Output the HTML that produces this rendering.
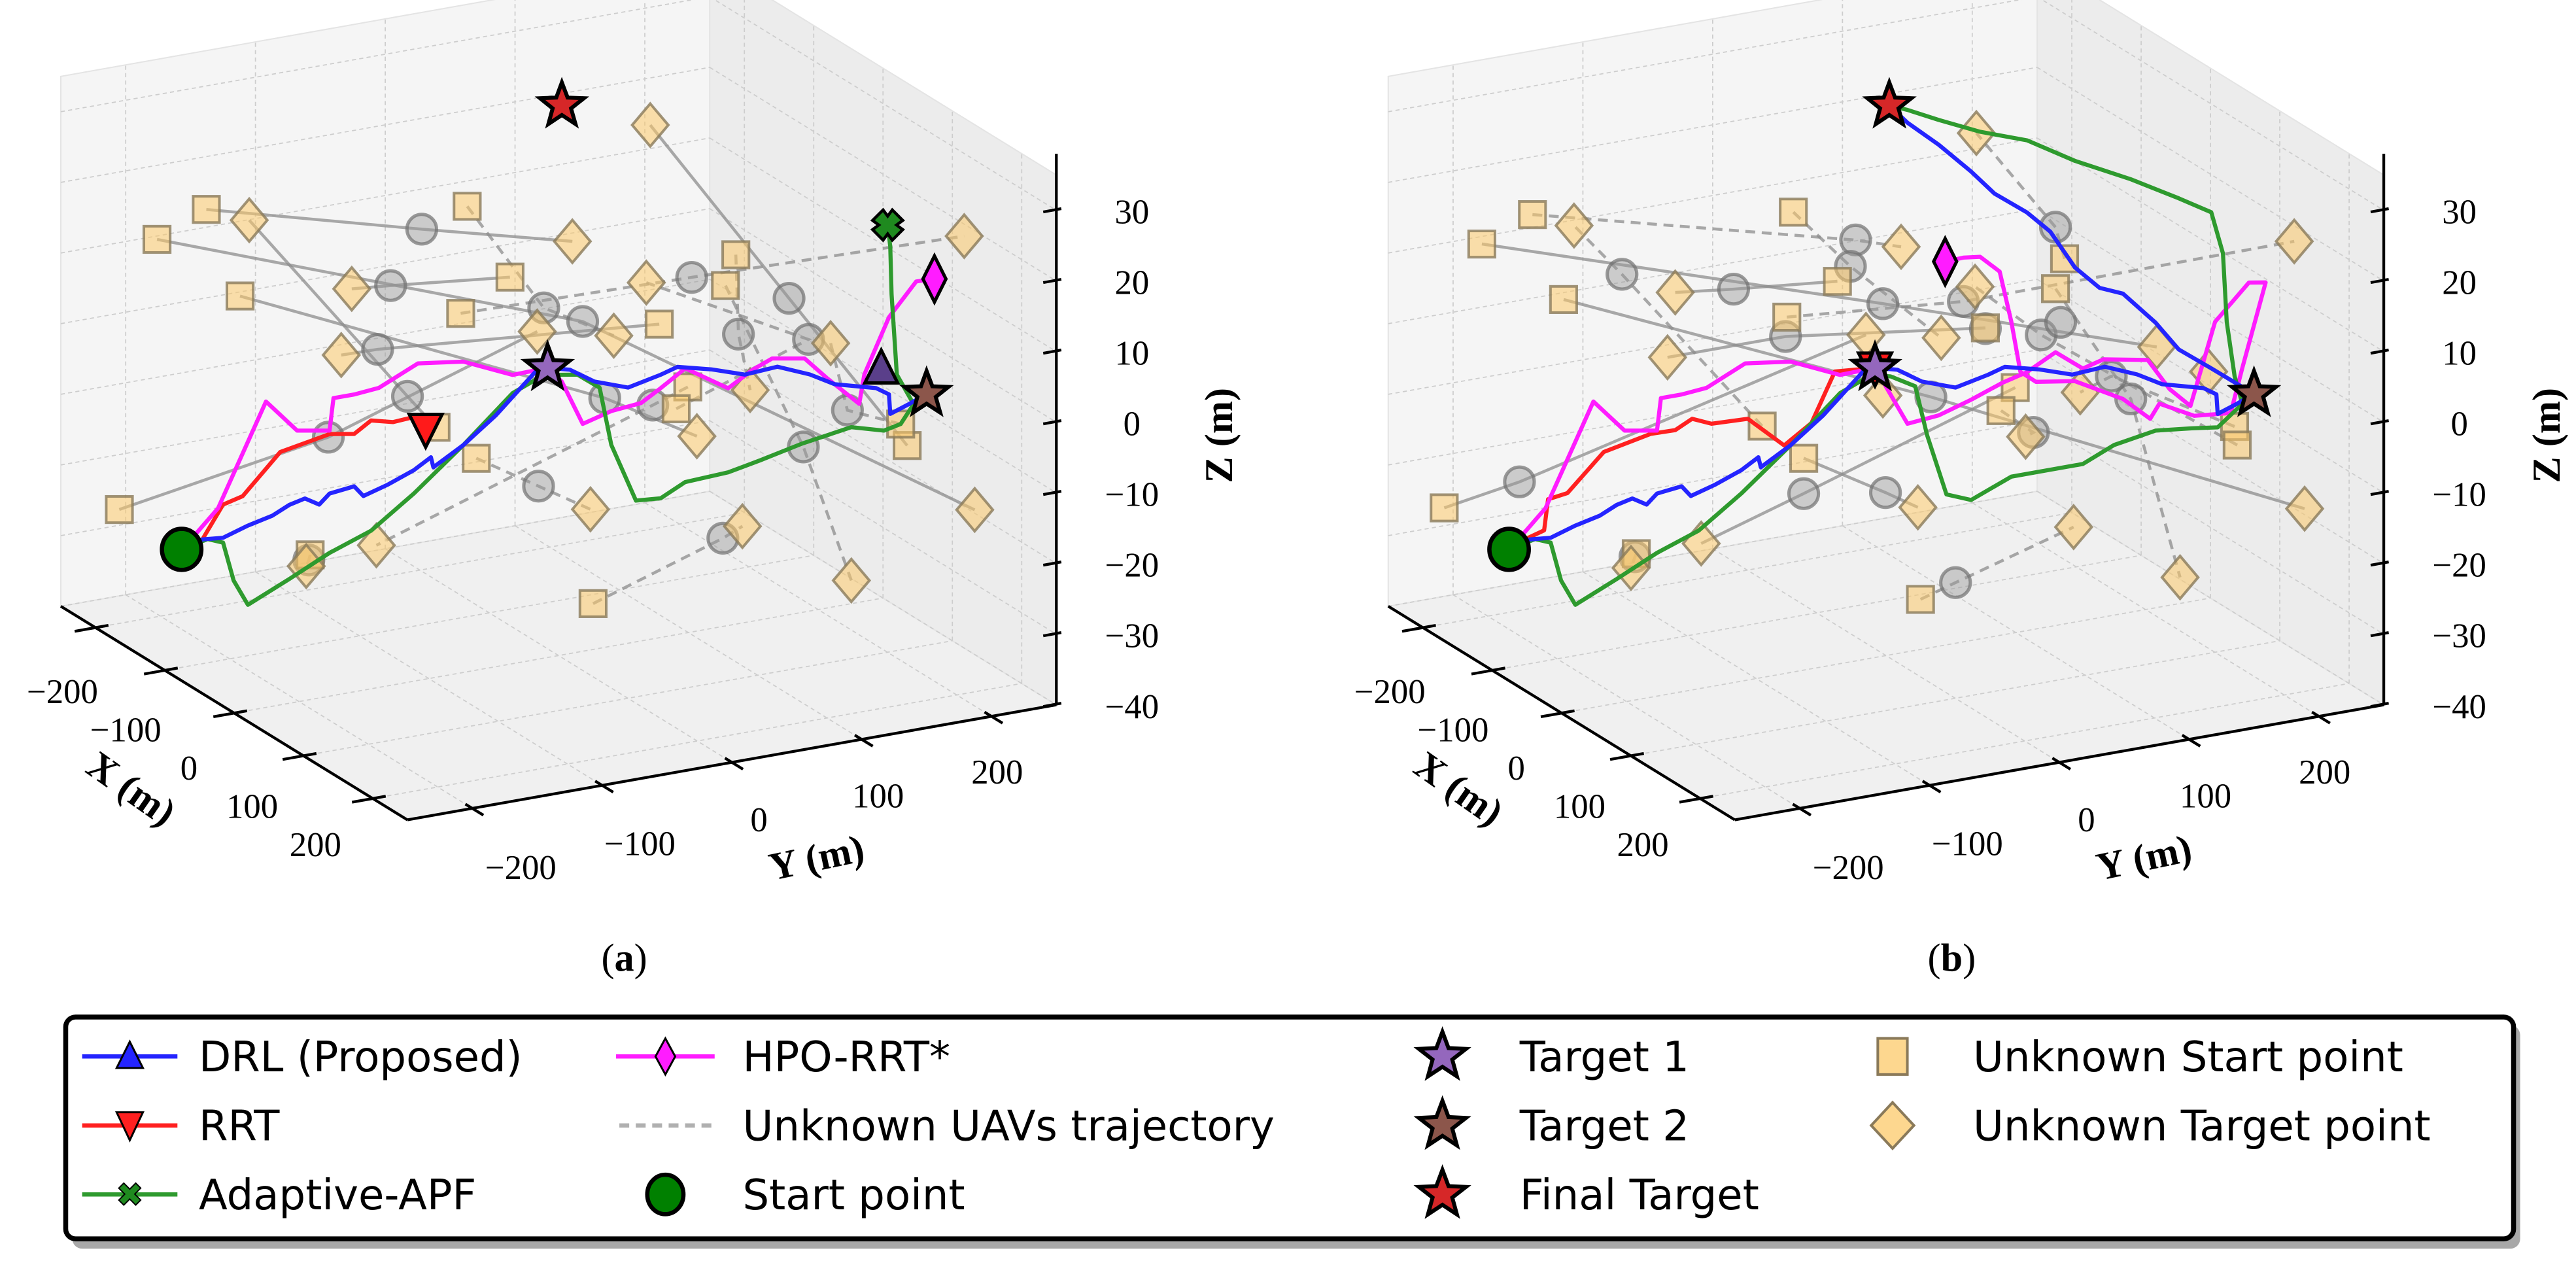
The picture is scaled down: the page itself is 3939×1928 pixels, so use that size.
<!DOCTYPE html>
<html><head><meta charset="utf-8"><title>UAV trajectories 3D</title>
<style>html,body{margin:0;padding:0;background:#fff;}svg{display:block;}</style>
</head><body>
<svg id="chart" xmlns="http://www.w3.org/2000/svg" width="3939" height="1928" viewBox="0 0 1568 767.5" preserveAspectRatio="none">
<rect x="0" y="0" width="1568" height="767.5" fill="#fff"/>
</svg>
<script>
// ---------- data (world coordinates: Y, Z in metres; trajectories sampled on plane X = PX) ----------
const PX = -100;
const xTicks = [-200,-100,0,100,200];
const yTicks = [-200,-100,0,100,200];
const zTicks = [-40,-30,-20,-10,0,10,20,30];
const startPt = [-237,-23.3];
const target1 = [45,-6.8];
const target2 = [337,-20.0];
const finalT = [56,30.0];

const drlLeg1 = [[-237,-23.3],[-221,-22.4],[-205,-22.7],[-186,-21.6],[-167,-20.8],[-154,-19.7],[-142,-19.2],[-131,-20.4],[-123,-19.1],[-104,-18.7],[-97,-20.3],[-78,-19.3],[-58,-17.9],[-45,-16.5],[-43,-18.0],[-20,-15.6],[5,-12.2],[24,-9.0],[37,-6.8],[45,-6.8]];
const drlLeg2 = [[62,-7.6],[81,-9.9],[107,-11.6],[132,-10.6],[145,-9.9],[171,-11.1],[197,-12.7],[222,-12.4],[247,-14.3],[266,-16.3],[298,-17.9],[308,-19.1],[309,-21.9],[323,-21.0],[337,-20.0]];
const drlLeg3B = [[304,-15.3],[279,-11.8],[261,-7.4],[236,-2.5],[218,-1.1],[199,2.4],[180,8.1],[162,11.4],[137,14.9],[119,18.6],[94,23.2],[70,27.1],[56,30]];
const drlEndA = [302,-15.2];

const rrtA = [[-237,-23.3],[-221,-22.4],[-205,-18.0],[-190,-17.3],[-161,-12.0],[-123,-10.7],[-104,-11.3],[-91,-9.8],[-74,-10.6],[-59,-10.4],[-49,-12.4]];
const rrtB = [[-238,-23.0],[-210,-21.5],[-207,-17.2],[-192,-16.8],[-164,-11.9],[-128,-10.5],[-109,-10.6],[-96,-9.4],[-81,-10.6],[-53,-10.8],[-25,-15.5],[-4,-13.0],[14,-6.3],[45,-6.8]];

const hpoLeg1 = [[-237,-23.3],[-224,-21.1],[-209,-18.4],[-172,-4.5],[-148,-9.4],[-123,-10.2],[-120,-5.7],[-104,-5.7],[-85,-5.4],[-55,-2.9],[-20,-3.8],[18,-6.9],[45,-6.8]];
const hpoLeg2A = [[56,-9.1],[72,-15.6],[94,-14.5],[117,-14.1],[132,-12.5],[151,-10.3],[184,-14.2],[203,-12.2],[218,-11.1],[243,-11.9],[260,-15.2],[285,-19.7],[289,-15.7],[308,-8.2],[329,-3.8],[343,-3.9]];
const hpoLeg2B = [[70,-15.5],[94,-15.1],[119,-13.7],[143,-12.1],[162,-11.2],[184,-9.1],[205,-12.1],[221,-11.3],[255,-12.5],[272,-17.2],[288,-20.1],[307,-8.8],[333,-4.1],[346,-4.5],[328,-16.0],[319,-22.1],[291,-21.6],[264,-19.0],[257,-20.9],[236,-17.4],[199,-13.7],[169,-12.8],[157,-11.0],[150,-3.7],[141,3.7],[126,6.3],[113,6.6],[99,6.5]];

const apfLeg1 = [[-237,-23.3],[-217,-22.5],[-205,-23.4],[-197,-29.0],[-186,-32.8],[-154,-30.2],[-123,-27.5],[-91,-25.4],[-58,-21.2],[-20,-15.6],[18,-9.5],[42,-7.7]];
const apfLeg2A = [[68,-8.5],[85,-10.9],[94,-19.3],[113,-27.8],[132,-28.1],[151,-26.4],[184,-26.1],[209,-25.2],[241,-23.9],[279,-22.8],[304,-24.1],[317,-23.6],[327,-21.1],[314,-16.5],[310,-5.0],[309,1.8],[307,4.9]];
const apfLeg2B = [[57,-8.4],[76,-10.4],[85,-17.6],[100,-26.5],[119,-27.9],[150,-25.6],[180,-25.6],[205,-25.6],[229,-23.7],[261,-22.7],[289,-23.3],[309,-23.8],[328,-21.1],[322,-17.0],[316,-9.1],[313,0.7],[304,6.8],[279,9.6],[242,13.5],[199,17.5],[162,21.6],[126,24.0],[94,26.7],[70,28.9],[56,30]];

// unknown UAVs: start square, current position (circle), target diamond, dashed flag
const uavStartA = [[-218,24.2],[-256,21.2],[-41,-12.4],[182,0.4],[-17,18.1],[322,-26.8],[16,7.0],[-192,11.1],[-22,3.1],[131,-3.4],[-285,-16.1],[153,-13.0],[-10,-17.8],[80,-41.3],[-138,-27.3],[317,-23.6],[190,4.5],[144,-15.8]];
const uavNowA = [[-52,16.0],[72,-1.1],[-63,-7.3],[242,-24.4],[42,1.8],[231,-3.0],[-76,8.8],[89,-12.5],[156,2.4],[-86,0.1],[-124,-11.1],[126,-14.7],[38,-23.3],[180,-35.3],[-139,-28.0],[276,-20.3],[192,-6.8],[246,-9.3]];
const uavGoalA = [[64,10.5],[374,-37.6],[-185,21.6],[279,-44.5],[96,-3.9],[124,25.0],[-106,9.3],[160,-20.2],[366,1.4],[-114,0.2],[37,-1.4],[-87,-27.6],[78,-27.9],[195,-34.1],[-141,-28.8],[263,-10.4],[201,-15.0],[121,2.8]];
const uavDashA = [0,0,0,1,1,0,0,0,1,0,0,1,1,1,1,1,1,1];

const uavStartB = [[-219,23.5],[-258,20.6],[-18,17.3],[-42,-12.2],[16,6.4],[191,3.9],[184,-0.1],[-195,10.7],[-23,2.6],[130,-3.9],[-287,-15.8],[153,-13.1],[-10,-17.8],[80,-40.7],[-139,-27.1],[322,-24.1],[142,-16.0],[324,-26.8]];
const uavNowB = [[30,11.8],[51,2.1],[26,8.2],[-150,12.8],[-64,7.9],[184,8.6],[242,-17.6],[88,-12.3],[113,0.4],[-24,-0.1],[-229,-14.0],[-10,-22.8],[53,-24.7],[107,-39.2],[-140,-27.5],[227,-13.9],[167,-19.9],[173,-6.3]];
const uavGoalB = [[65,9.7],[262,-10.9],[96,-4.2],[-187,20.9],[-109,8.9],[123,23.9],[280,-44.1],[376,-37.5],[368,0.6],[-115,-0.1],[38,-1.9],[-89,-27.3],[78,-27.6],[198,-34.3],[-143,-29.0],[203,-15.4],[161,-20.3],[122,2.2]];
const uavDashB = [1,0,1,1,0,1,1,0,1,0,0,0,0,1,1,1,1,1];
const extraGoalB = [[302,-15.7],[51,-10.9]];
const extraNowB = [[188,-5.0],[130,-4.0]];

// ---------- rendering ----------
const NS = 'http://www.w3.org/2000/svg';
const svg = document.getElementById('chart');
function mk(tag, attrs, parent){const e=document.createElementNS(NS,tag);for(const k in attrs)e.setAttribute(k,attrs[k]);(parent||svg).appendChild(e);return e;}
const ZMAX = 35, ZMIN = -40;
function P(dx,X,Y,Z){const u=(X+250)/500, v=(Y+250)/500;return [37+u*211+v*395+dx, 369+u*130-v*70-(Z-ZMIN)*4.3];}
function pt(dx,p){return P(dx,PX,p[0],p[1]);}
function poly(pts){return pts.map(p=>p[0].toFixed(1)+','+p[1].toFixed(1)).join(' ');}
function starPts(cx,cy,R,r){const a=[];for(let i=0;i<10;i++){const ang=-Math.PI/2+i*Math.PI/5;const rad=i%2?r:R;a.push([cx+rad*Math.cos(ang),cy+rad*Math.sin(ang)]);}return poly(a);}

function drawStar(g,c,color,name,R){
  const s=mk('polygon',{points:starPts(c[0],c[1],R||14,(R||14)*0.42),fill:color,stroke:'#000','stroke-width':2.4,'stroke-linejoin':'miter'},g);
  
  
}
function drawSquare(g,c,name){
  const s=mk('rect',{x:c[0]-8,y:c[1]-8,width:16,height:16,fill:'#fcc96a','fill-opacity':0.55,stroke:'#8a7a5a','stroke-opacity':0.8,'stroke-width':1.6},g);
  
  
}
function drawDiamond(g,c,name){
  const s=mk('polygon',{points:poly([[c[0],c[1]-13],[c[0]+11,c[1]],[c[0],c[1]+13],[c[0]-11,c[1]]]),fill:'#fcc96a','fill-opacity':0.55,stroke:'#8a7a5a','stroke-opacity':0.8,'stroke-width':1.6},g);
  
  
}
function drawCircleUAV(g,c,name){
  const s=mk('circle',{cx:c[0],cy:c[1],r:9,fill:'#9a9a9a','fill-opacity':0.45,stroke:'#707070','stroke-opacity':0.7,'stroke-width':2},g);
  
  
}
function drawPath(g,dx,pts,color,name){
  const s=mk('polyline',{points:poly(pts.map(p=>pt(dx,p))),fill:'none',stroke:color,'stroke-width':2.5,'stroke-linejoin':'round','stroke-linecap':'round'},g);
  
  
}

function drawPanel(dx, tag, cfg){
  const g=mk('g',{});
  
  
  const floor=mk('polygon',{points:poly([P(dx,-250,-250,ZMIN),P(dx,250,-250,ZMIN),P(dx,250,250,ZMIN),P(dx,-250,250,ZMIN)]),fill:'#f0f0f0',stroke:'#e4e4e4','stroke-width':0.8},g);
  
  
  const lw=mk('polygon',{points:poly([P(dx,-250,-250,ZMIN),P(dx,-250,250,ZMIN),P(dx,-250,250,ZMAX),P(dx,-250,-250,ZMAX)]),fill:'#f5f5f5',stroke:'#e4e4e4','stroke-width':0.8},g);
  
  
  const rw=mk('polygon',{points:poly([P(dx,-250,250,ZMIN),P(dx,250,250,ZMIN),P(dx,250,250,ZMAX),P(dx,-250,250,ZMAX)]),fill:'#ececec',stroke:'#e4e4e4','stroke-width':0.8},g);
  
  
  const gs={stroke:'#cdcdcd','stroke-width':0.7,'stroke-dasharray':'2.5,2'};
  function gl(a,b){const l=mk('line',Object.assign({x1:a[0],y1:a[1],x2:b[0],y2:b[1]},gs),g);
    
    }
  yTicks.forEach(y=>{gl(P(dx,-250,y,ZMIN),P(dx,-250,y,ZMAX));gl(P(dx,-250,y,ZMIN),P(dx,250,y,ZMIN));});
  xTicks.forEach(x=>{gl(P(dx,x,250,ZMIN),P(dx,x,250,ZMAX));gl(P(dx,x,-250,ZMIN),P(dx,x,250,ZMIN));});
  zTicks.forEach(z=>{gl(P(dx,-250,-250,z),P(dx,-250,250,z));gl(P(dx,-250,250,z),P(dx,250,250,z));});
  const ax={stroke:'#000','stroke-width':1.7};
  function al(a,b,name){const l=mk('line',Object.assign({x1:a[0],y1:a[1],x2:b[0],y2:b[1]},ax),g);
    
    }
  al(P(dx,-250,-250,ZMIN),P(dx,250,-250,ZMIN),'x-axis-line');
  al(P(dx,250,-250,ZMIN),P(dx,250,250,ZMIN),'y-axis-line');
  al(P(dx,250,250,ZMIN),P(dx,250,250,38),'z-axis-line');
  const tf='"Liberation Serif", "DejaVu Serif", serif';
  xTicks.forEach(x=>{al(P(dx,x,-266,ZMIN),P(dx,x,-240,ZMIN),'x-tick');
    const t=mk('text',{x:38+dx+(x+200)/400*154,y:428+(x+200)/400*93,'font-family':tf,'font-size':21,'text-anchor':'middle',fill:'#000'},g);
    t.textContent=(x<0?'\u2212'+(-x):String(x));
    
    });
  yTicks.forEach(y=>{al(P(dx,266,y,ZMIN),P(dx,240,y,ZMIN),'y-tick');
    const t=mk('text',{x:317+dx+(y+200)/400*290,y:535+(y+200)/400*(-58),'font-family':tf,'font-size':21,'text-anchor':'middle',fill:'#000'},g);
    t.textContent=(y<0?'\u2212'+(-y):String(y));
    
    });
  zTicks.forEach(z=>{const p=P(dx,250,250,z);al([p[0]-8,p[1]+1],[p[0]+3,p[1]-1],'z-tick');
    const t=mk('text',{x:p[0]+46,y:p[1]+8,'font-family':tf,'font-size':21,'text-anchor':'middle',fill:'#000'},g);
    t.textContent=(z<0?'\u2212'+(-z):String(z));
    
    });
  const bf={'font-family':tf,'font-size':24,'font-weight':'bold',fill:'#000','text-anchor':'middle'};
  const xl=mk('text',Object.assign({x:80+dx,y:488,transform:'rotate(35 '+(80+dx)+' 480)'},bf),g);xl.textContent='X (m)';
  
  
  const yl=mk('text',Object.assign({x:497+dx,y:530,transform:'rotate(-12 '+(497+dx)+' 522)'},bf),g);yl.textContent='Y (m)';
  
  
  const zl=mk('text',Object.assign({x:742+dx,y:273,transform:'rotate(-90 '+(742+dx)+' 265)'},bf),g);zl.textContent='Z (m)';
  
  
  cfg.us.forEach((s,i)=>{
    const a=pt(dx,s), b=pt(dx,cfg.un[i]), c=pt(dx,cfg.ug[i]);
    const st={stroke:'#8c8c8c','stroke-opacity':0.75,'stroke-width':1.8,fill:'none'};
    if(cfg.ud[i]) st['stroke-dasharray']='6,4';
    const l=mk('polyline',Object.assign({points:poly([a,b,c])},st),g);
    
    
  });
  cfg.us.forEach((s,i)=>{drawCircleUAV(g,pt(dx,cfg.un[i]),'unknown-uav-position');});
  (cfg.xn||[]).forEach(p=>drawCircleUAV(g,pt(dx,p),'unknown-uav-position'));
  cfg.us.forEach((s,i)=>{drawSquare(g,pt(dx,s),'unknown-start-point');drawDiamond(g,pt(dx,cfg.ug[i]),'unknown-target-point');});
  (cfg.xg||[]).forEach(p=>drawDiamond(g,pt(dx,p),'unknown-target-point'));
  drawPath(g,dx,cfg.rrt,'#ff2020','rrt-path');
  drawPath(g,dx,cfg.hpo,'#ff1cff','hpo-rrt-star-path');
  drawPath(g,dx,cfg.apf,'#2e9a2e','adaptive-apf-path');
  drawPath(g,dx,cfg.drl,'#2424ff','drl-path');
  if(cfg.rrtEnd){const c=pt(dx,cfg.rrtEnd);const m=mk('polygon',{points:poly([[c[0]-10,c[1]-9],[c[0]+10,c[1]-9],[c[0],c[1]+11]]),fill:'#ff1a1a',stroke:'#000','stroke-width':2},g);
    
    }
  if(cfg.drlEnd){const c=pt(dx,cfg.drlEnd);const m=mk('polygon',{points:poly([[c[0],c[1]-11],[c[0]+10,c[1]+9],[c[0]-10,c[1]+9]]),fill:'#5a3f8a',stroke:'#000','stroke-width':2},g);
    
    }
  if(cfg.apfEnd){const c=pt(dx,cfg.apfEnd);const d=6,w=3.2;
    const m=mk('path',{d:`M${c[0]-d-w},${c[1]-d+w} L${c[0]-d+w},${c[1]-d-w} L${c[0]},${c[1]-2*w+1} L${c[0]+d-w},${c[1]-d-w} L${c[0]+d+w},${c[1]-d+w} L${c[0]+2*w-1},${c[1]} L${c[0]+d+w},${c[1]+d-w} L${c[0]+d-w},${c[1]+d+w} L${c[0]},${c[1]+2*w-1} L${c[0]-d+w},${c[1]+d+w} L${c[0]-d-w},${c[1]+d-w} L${c[0]-2*w+1},${c[1]} Z`,fill:'#1f8a1f',stroke:'#000','stroke-width':1.8},g);
    
    }
  if(cfg.hpoEnd){const c=pt(dx,cfg.hpoEnd);const m=mk('polygon',{points:poly([[c[0],c[1]-14],[c[0]+7,c[1]],[c[0],c[1]+14],[c[0]-7,c[1]]]),fill:'#ff1cff',stroke:'#000','stroke-width':2},g);
    
    }
  const sp=pt(dx,startPt);
  const sc=mk('ellipse',{cx:sp[0],cy:sp[1],rx:12,ry:12.5,fill:'#008000',stroke:'#000','stroke-width':2.6},g);
  
  
  drawStar(g,pt(dx,target1),'#9467bd','target-1');
  drawStar(g,pt(dx,target2),'#8c564b','target-2');
  drawStar(g,pt(dx,finalT),'#d62728','final-target');
  const cap=mk('text',{x:380+dx,y:591,'font-family':tf,'font-size':24,'text-anchor':'middle',fill:'#000'},g);
  cap.innerHTML='(<tspan font-weight="bold">'+tag+'</tspan>)';
  
  
}

drawPanel(0,'a',{us:uavStartA,un:uavNowA,ug:uavGoalA,ud:uavDashA,
  drl:drlLeg1.concat(drlLeg2), rrt:rrtA, hpo:hpoLeg1.concat(hpoLeg2A), apf:apfLeg1.concat(apfLeg2A),
  rrtEnd:rrtA[rrtA.length-1], drlEnd:drlEndA, apfEnd:apfLeg2A[apfLeg2A.length-1], hpoEnd:hpoLeg2A[hpoLeg2A.length-1]});
drawPanel(808,'b',{us:uavStartB,un:uavNowB,ug:uavGoalB,ud:uavDashB,xg:extraGoalB,xn:extraNowB,
  drl:drlLeg1.concat(drlLeg2,drlLeg3B), rrt:rrtB, hpo:hpoLeg1.concat(hpoLeg2B), apf:apfLeg1.concat(apfLeg2B),
  rrtEnd:rrtB[rrtB.length-1], hpoEnd:hpoLeg2B[hpoLeg2B.length-1]});

(function(){
  const g=mk('g',{});
  
  
  const sh=mk('rect',{x:44,y:624,width:1490,height:136,rx:6,fill:'#a8a8a8'},g);
  
  
  const bx=mk('rect',{x:40,y:619,width:1490,height:135,rx:6,fill:'#fff',stroke:'#000','stroke-width':3},g);
  
  
  const lf='"DejaVu Sans", "Liberation Sans", sans-serif';
  const rows=[643,685,727];
  function txt(x,y,s,name){const t=mk('text',{x:x,y:y+9,'font-family':lf,'font-size':25.5,fill:'#000'},g);t.textContent=s;
    
    }
  function ln(x1,x2,y,color,dash,name){const l=mk('line',{x1:x1,y1:y,x2:x2,y2:y,stroke:color,'stroke-width':2.6},g);if(dash)l.setAttribute('stroke-dasharray','6,4');
    
    }
  ln(50,108,rows[0],'#2424ff',0,'legend-drl-line');
  let m=mk('polygon',{points:poly([[79,rows[0]-9],[87,rows[0]+7],[71,rows[0]+7]]),fill:'#2424ff',stroke:'#000','stroke-width':1.2},g);
  
  
  txt(121,rows[0],'DRL (Proposed)','legend-drl-label');
  ln(50,108,rows[1],'#ff2020',0,'legend-rrt-line');
  m=mk('polygon',{points:poly([[71,rows[1]-8],[87,rows[1]-8],[79,rows[1]+9]]),fill:'#ff2020',stroke:'#000','stroke-width':1.2},g);
  
  
  txt(121,rows[1],'RRT','legend-rrt-label');
  ln(50,108,rows[2],'#2e9a2e',0,'legend-apf-line');
  m=mk('text',{x:79,y:rows[2]+7,'font-family':lf,'font-size':20,'text-anchor':'middle',fill:'#1f8a1f',stroke:'#000','stroke-width':0.8},g);m.textContent='\u2716';
  
  
  txt(121,rows[2],'Adaptive-APF','legend-apf-label');
  ln(375,435,rows[0],'#ff1cff',0,'legend-hpo-line');
  m=mk('polygon',{points:poly([[405,rows[0]-11],[411,rows[0]],[405,rows[0]+11],[399,rows[0]]]),fill:'#ff1cff',stroke:'#000','stroke-width':1.2},g);
  
  
  txt(452,rows[0],'HPO-RRT*','legend-hpo-label');
  ln(377,433,rows[1],'#b0b0b0',1,'legend-unknown-uav-line');
  txt(452,rows[1],'Unknown UAVs trajectory','legend-unknown-uav-label');
  m=mk('ellipse',{cx:405,cy:rows[2],rx:11,ry:12,fill:'#008000',stroke:'#000','stroke-width':2.6},g);
  
  
  txt(452,rows[2],'Start point','legend-start-label');
  drawStar(g,[878,rows[0]],'#9467bd','legend-target-1-marker',15);
  txt(925,rows[0],'Target 1','legend-target-1-label');
  drawStar(g,[878,rows[1]],'#8c564b','legend-target-2-marker',15);
  txt(925,rows[1],'Target 2','legend-target-2-label');
  drawStar(g,[878,rows[2]],'#d62728','legend-final-target-marker',15);
  txt(925,rows[2],'Final Target','legend-final-target-label');
  m=mk('rect',{x:1143,y:rows[0]-11,width:18,height:22,fill:'#fcc96a','fill-opacity':0.75,stroke:'#8a7a5a','stroke-width':1.6},g);
  
  
  txt(1201,rows[0],'Unknown Start point','legend-unknown-start-label');
  m=mk('polygon',{points:poly([[1152,rows[1]-14],[1165,rows[1]],[1152,rows[1]+14],[1139,rows[1]]]),fill:'#fcc96a','fill-opacity':0.75,stroke:'#8a7a5a','stroke-width':1.6},g);
  
  
  txt(1201,rows[1],'Unknown Target point','legend-unknown-target-label');
})();
</script>
</body></html>
